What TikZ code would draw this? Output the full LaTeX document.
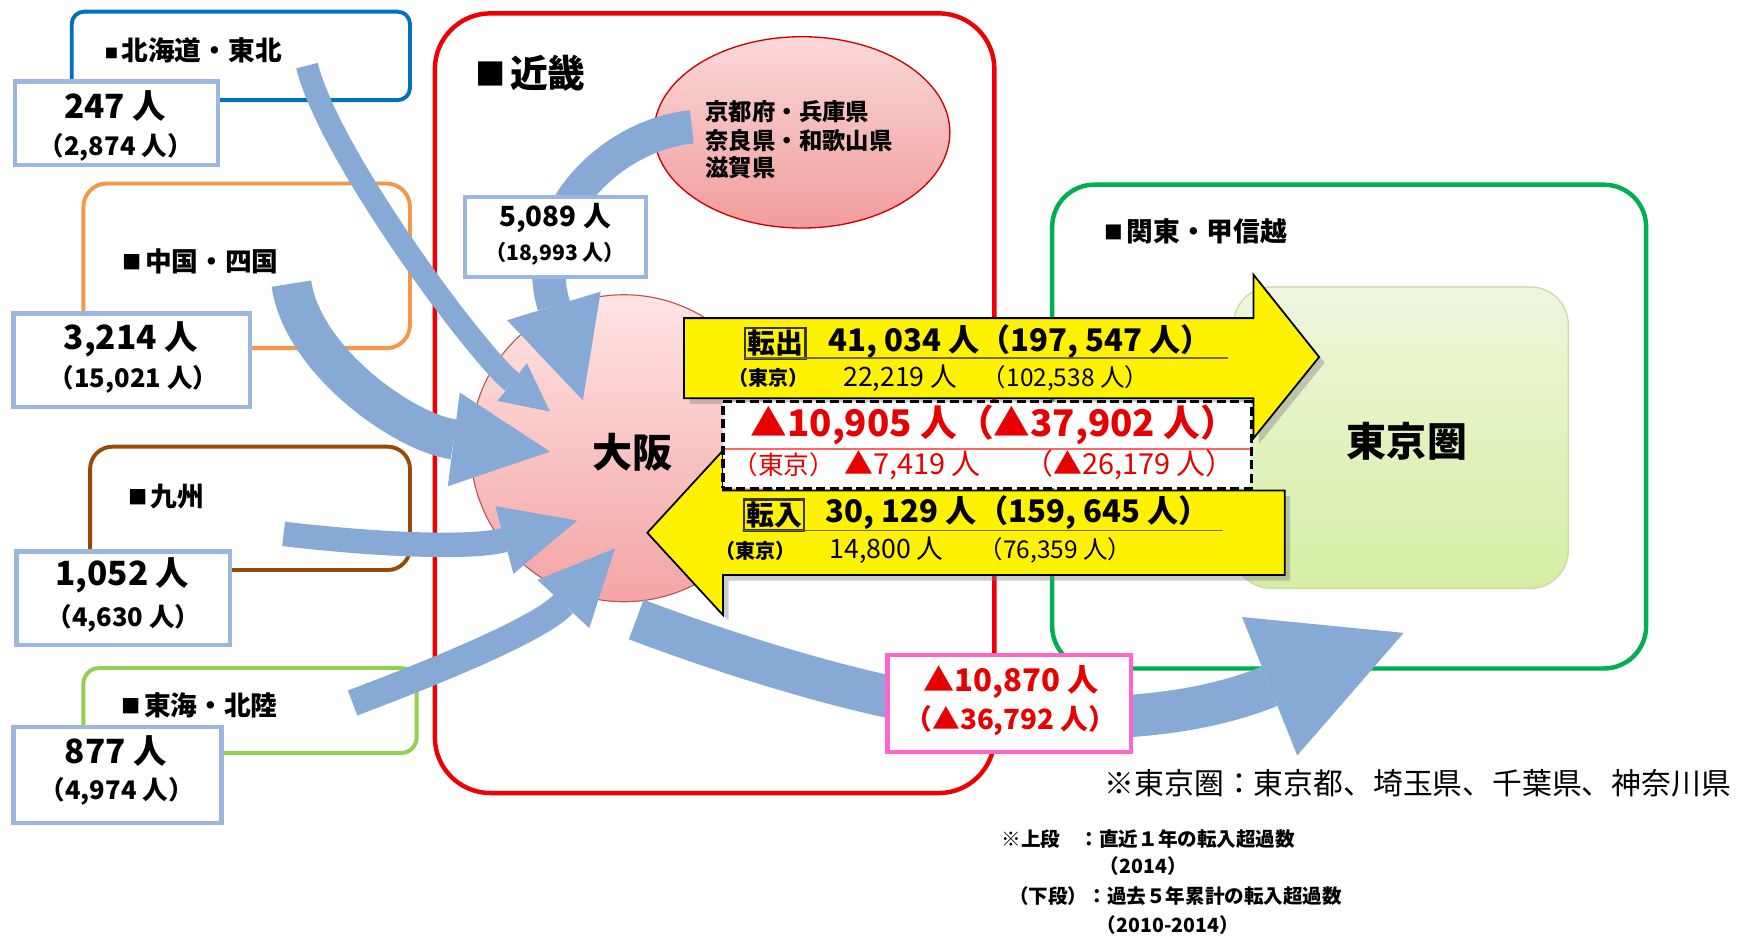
\documentclass[tikz,border=0pt]{standalone}
\usepackage{fontspec}
\setmainfont{Noto Sans CJK JP}
\usetikzlibrary{calc,shadows,shapes.geometric}
\definecolor{hkblue}{HTML}{0070C0}
\definecolor{cgorange}{HTML}{F79646}
\definecolor{kybrown}{HTML}{984807}
\definecolor{tkgreen}{HTML}{92D050}
\definecolor{kkred}{HTML}{F00000}
\definecolor{ktgreen}{HTML}{00B050}
\definecolor{arrowblue}{RGB}{135,169,214}
\definecolor{numbd}{RGB}{155,183,221}
\definecolor{pinkbd}{HTML}{FF66CC}
\definecolor{txtred}{HTML}{E80000}
\definecolor{osakatop}{HTML}{FFE4E4}
\definecolor{osakabot}{HTML}{F4A4A4}
\definecolor{osakabd}{HTML}{C0504D}
\definecolor{preftop}{HTML}{FBD8D8}
\definecolor{prefbot}{HTML}{F19C9C}
\definecolor{tkytop}{HTML}{EEF6DD}
\definecolor{tkybot}{HTML}{D5EEA3}
\definecolor{tkybd}{HTML}{C8DCA8}
\definecolor{uline}{RGB}{110,110,30}
\definecolor{tagbd}{RGB}{55,55,10}
\newcommand\myfs[1]{\fontsize{#1}{#1}\selectfont}
\newcommand\sqmark[1]{\raisebox{0.06em}{\scalebox{#1}{■}}\hspace{0.12em}}
\newcommand\bluearrow[7]{%
  \draw[shaft, line width=#6] (#1) .. controls #2 and #3 .. (#4);
  \fill[headfill] ($(#4)!#7!90:(#5)$) -- (#5) -- ($(#4)!#7!-90:(#5)$) -- cycle;}
\tikzset{
  regionframe/.style={line width=1.75pt},
  numbox/.style={draw=numbd, line width=2pt, fill=white, inner sep=0pt},
  bigtxt/.style={font=\myfs{15}\bfseries, inner sep=0pt},
  smalltxt/.style={font=\myfs{11.5}\bfseries, inner sep=0pt},
  regionlabel/.style={font=\myfs{12}\bfseries, anchor=west, inner sep=0pt},
  shaft/.style={draw=arrowblue, line cap=butt},
  headfill/.style={fill=arrowblue},
  yarrow/.style={fill=yellow, draw=black, line width=0.8pt, line join=miter,
    drop shadow={shadow xshift=2.5pt, shadow yshift=-2.5pt, opacity=0.4}},
  ytxt/.style={inner sep=0pt},
  redtxt/.style={inner sep=0pt, text=txtred},
  notetxt/.style={inner sep=0pt, font=\myfs{8.8}\bfseries},
  tagbox/.style={draw=tagbd, line width=1.1pt, fill=yellow, inner sep=1pt, font=\myfs{12.5}\bfseries},
}
\begin{document}
\begin{tikzpicture}[x=0.5pt,y=-0.5pt]
\useasboundingbox (0,0) rectangle (1568,843);
\fill[white] (0,0) rectangle (1568,843);

% large frames
\draw[draw=kkred, line width=2pt, rounded corners=25pt] (391,12) rectangle (894,713);
\draw[draw=ktgreen, line width=2pt, rounded corners=19pt] (946,166) rectangle (1480,601);
\node[font=\myfs{17}\bfseries, anchor=west, inner sep=0pt] (kklabel) at (427,66) {\sqmark{0.8}近畿};
\node[regionlabel] (ktlabel) at (993,208) {\sqmark{0.7}関東・甲信越};

% regional frames
\draw[regionframe, draw=hkblue, rounded corners=5.5pt] (64.5,10.5) rectangle (368.6,90);
\draw[regionframe, draw=cgorange, rounded corners=10.5pt] (75,165) rectangle (368.6,313);
\draw[regionframe, draw=kybrown, rounded corners=10pt] (81,401.6) rectangle (368.6,512.5);
\draw[regionframe, draw=tkgreen, rounded corners=7pt] (75,600.7) rectangle (374.6,677);
\node[regionlabel] (hklabel) at (94,45) {\sqmark{0.5}北海道・東北};
\node[regionlabel] (cglabel) at (110,235) {\sqmark{0.72}中国・四国};
\node[regionlabel] (kylabel) at (115,446) {\sqmark{0.72}九州};
\node[regionlabel] (tklabel) at (109,634) {\sqmark{0.72}東海・北陸};

% number boxes
\node[numbox, minimum width=91.25pt, minimum height=37.5pt] (nhk) at (104.75,110.9) {};
\node[numbox, minimum width=106.4pt, minimum height=42pt] (ncg) at (118.4,323.7) {};
\node[numbox, minimum width=95.9pt, minimum height=42pt] (nky) at (110.9,538) {};
\node[numbox, minimum width=93.65pt, minimum height=43.3pt] (ntk) at (105.65,696.7) {};
\node[bigtxt] (nhk1) at (103.4,95) {247 人};
\node[smalltxt] (nhk2) at (104,132.6) {（2,874 人）};
\node[bigtxt] (ncg1) at (117.6,305) {3,214 人};
\node[smalltxt] (ncg2) at (120,341) {（15,021 人）};
\node[bigtxt] (nky1) at (110,517.7) {1,052 人};
\node[smalltxt] (nky2) at (111,555.7) {（4,630 人）};
\node[bigtxt] (ntk1) at (104,675) {877 人};
\node[smalltxt] (ntk2) at (105,711.8) {（4,974 人）};

% Kinki prefectures, Osaka, Tokyo area
\node[ellipse, minimum width=133pt, minimum height=86pt, draw=red!80!black, line width=0.6pt,
  top color=preftop, bottom color=prefbot] (kpref) at (721,119) {};
\node[font=\myfs{10.5}\bfseries, anchor=west, inner sep=0pt] (kpref1) at (634,100.4) {京都府・兵庫県};
\node[font=\myfs{10.5}\bfseries, anchor=west, inner sep=0pt] (kpref2) at (634,126) {奈良県・和歌山県};
\node[font=\myfs{10.5}\bfseries, anchor=west, inner sep=0pt] (kpref3) at (634,151) {滋賀県};
\node[circle, minimum size=138pt, draw=osakabd, line width=0.5pt,
  top color=osakatop, bottom color=osakabot] (osaka) at (561,403) {};
\node[rectangle, rounded corners=17pt, minimum width=150.5pt, minimum height=135.5pt,
  draw=tkybd, line width=0.6pt, top color=tkytop, bottom color=tkybot] (tokyo) at (1259.5,393.5) {};
\node[font=\myfs{18}\bfseries, inner sep=0pt] (osakatxt) at (569,407) {大阪};
\node[font=\myfs{18}\bfseries, inner sep=0pt] (tokyotxt) at (1265,397) {東京圏};

% blue flow arrows into Osaka
\coordinate (hkS) at (276,59);  \coordinate (hkB) at (460.5,343.5); \coordinate (hkT) at (494.5,370);
\coordinate (cgS) at (262,255); \coordinate (cgB) at (408,395);     \coordinate (cgT) at (494.5,406);
\coordinate (kyS) at (255,480); \coordinate (kyB) at (453.5,485.5); \coordinate (kyT) at (519,468);
\coordinate (tkS) at (317,632); \coordinate (tkB) at (506.5,543);   \coordinate (tkT) at (553,493);
\coordinate (kkS) at (622,114); \coordinate (kkB) at (498,275);     \coordinate (kkT) at (524,360);
\coordinate (outS) at (572,557); \coordinate (outB) at (1141.5,617); \coordinate (outT) at (1262,569);
\bluearrow{hkS}{(296,140)}{($(hkB)!-0.9!(hkT)$)}{hkB}{hkT}{10pt}{10.75pt}
\bluearrow{cgS}{(272,325)}{($(cgB)!-0.5!(cgT)$)}{cgB}{cgT}{18pt}{21.25pt}
\bluearrow{kyS}{(340,490)}{($(kyB)!-0.45!(kyT)$)}{kyB}{kyT}{11pt}{15.75pt}
\bluearrow{tkS}{(370,612)}{($(tkB)!-0.5!(tkT)$)}{tkB}{tkT}{12pt}{15.9pt}
\bluearrow{kkS}{(545,122)}{($(kkB)!-0.9!(kkT)$)}{kkB}{kkT}{15pt}{22pt}
\draw[shaft, line width=19pt] (outS) .. controls (700,605) and (850,648) .. (960,646)
  .. controls (1040,645) and ($(outB)!-0.4!(outT)$) .. (outB);
\fill[headfill] ($(outB)!33.5pt!90:(outT)$) -- (outT) -- ($(outB)!33.5pt!-90:(outT)$) -- cycle;

% 5,089 box and net outflow box
\node[numbox, minimum width=81.5pt, minimum height=36pt] (nkk) at (499.5,213) {};
\node[font=\myfs{12.5}\bfseries, inner sep=0pt] (nkk1) at (499,196) {5,089 人};
\node[font=\myfs{9.5}\bfseries, inner sep=0pt] (nkk2) at (499,228) {（18,993 人）};
\node[draw=pinkbd, line width=2pt, fill=white, minimum width=109.5pt, minimum height=43.5pt] (nout) at (907.5,632.5) {};
\node[redtxt, font=\myfs{14}\bfseries] (nout1) at (909,613.6) {▲10,870 人};
\node[redtxt, font=\myfs{12.5}\bfseries] (nout2) at (908.5,648) {（▲36,792 人）};

% yellow arrows Osaka <-> Tokyo area
\draw[yarrow] (615,286) -- (1127,286) -- (1127,247) -- (1186,321) -- (1127,394) -- (1127,358) -- (615,358) -- cycle;
\draw[yarrow] (1155,441) -- (650,441) -- (650,405) -- (582,479) -- (650,553) -- (650,517) -- (1155,517) -- cycle;
\node[draw=black, dashed, dash pattern=on 4pt off 2pt, line width=1.4pt, fill=white,
  minimum width=237.5pt, minimum height=39pt] (netbox) at (887.5,400) {};

\node[tagbox] (tenshutsu) at (697,308.5) {転出};
\node[ytxt, font=\myfs{14}\bfseries] (out1) at (917,307) {41, 034 人（197, 547 人）};
\draw[uline, line width=0.8pt] (670,322) -- (1104,322);
\node[ytxt, font=\myfs{9}\bfseries] (out2a) at (691,340) {（東京）};
\node[ytxt, font=\myfs{12}] (out2b) at (809.5,340) {22,219 人};
\node[ytxt, font=\myfs{11}] (out2c) at (958,340) {（102,538 人）};

\node[redtxt, font=\myfs{16.5}\bfseries] (net1) at (893.5,382) {▲10,905 人（▲37,902 人）};
\draw[red!60, line width=0.8pt] (652,404) -- (1124,404);
\node[redtxt, font=\myfs{11.5}] (net2a) at (704.5,418) {（東京）};
\node[redtxt, font=\myfs{13}] (net2b) at (820.5,418) {▲7,419 人};
\node[redtxt, font=\myfs{13}] (net2c) at (1015.5,418) {（▲26,179 人）};

\node[tagbox] (tennyu) at (696,463) {転入};
\node[ytxt, font=\myfs{14}\bfseries] (in1) at (915,461) {30, 129 人（159, 645 人）};
\draw[uline, line width=0.8pt] (667,477) -- (1100,477);
\node[ytxt, font=\myfs{9}\bfseries] (in2a) at (679,495) {（東京）};
\node[ytxt, font=\myfs{12}] (in2b) at (797,495) {14,800 人};
\node[ytxt, font=\myfs{11}] (in2c) at (949,495) {（76,359 人）};

% notes
\node[inner sep=0pt, font=\myfs{13.4}, anchor=west] (note1) at (993,704) {※東京圏：東京都、埼玉県、千葉県、神奈川県};
\node[notetxt, anchor=west] (note2) at (900,754) {※上段　：直近１年の転入超過数};
\node[notetxt] (note3) at (1028,779) {（2014）};
\node[notetxt, anchor=west] (note4) at (907,806) {（下段）：過去５年累計の転入超過数};
\node[notetxt] (note5) at (1050,832) {（2010-2014）};
\end{tikzpicture}
\end{document}
